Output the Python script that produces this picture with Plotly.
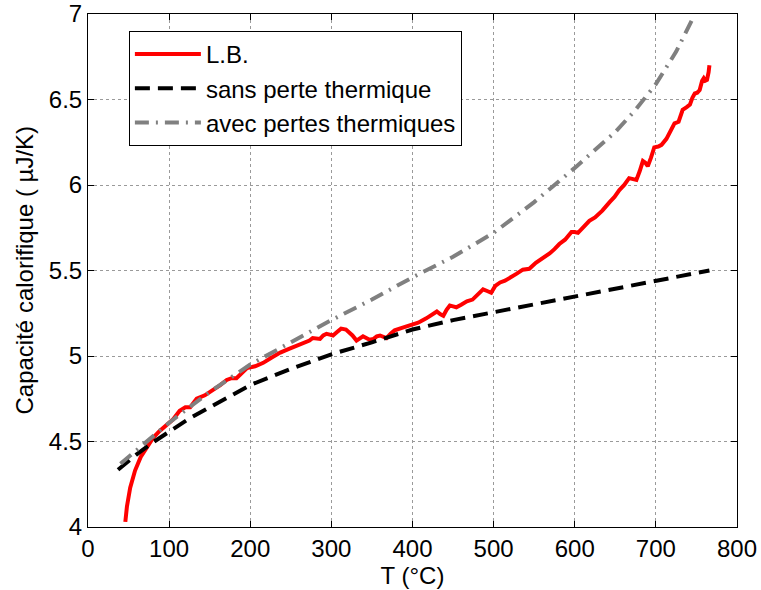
import plotly.graph_objects as go

# L.B. measured curve
lb_T = [46, 48, 52, 58, 65, 72, 80, 88, 97, 105, 113, 120, 126, 134, 144, 154, 163, 171, 177, 183,
        190, 196, 206, 216, 226, 237, 247, 257, 266, 273, 277, 282, 286, 290, 294, 298, 302, 307, 312, 318,
        322, 326, 331, 335, 339, 343, 347, 352, 356, 360, 364, 368, 373, 378, 387, 397, 407, 417, 424, 430,
        434, 438, 442, 446, 450, 454, 460, 467, 474, 480, 487, 492, 497, 502, 508, 514, 520, 528, 536, 544,
        552, 560, 569, 575, 581, 588, 596, 600, 604, 611, 618, 625, 634, 643, 649, 655, 661, 667, 672, 676,
        680, 684, 687, 690, 694, 698, 703, 707, 713, 718, 723, 728, 733, 738, 742, 745, 748, 751, 754, 757,
        759, 761, 763, 765, 766]
lb_C = [4.03, 4.12, 4.23, 4.33, 4.41, 4.46, 4.52, 4.56, 4.60, 4.63, 4.68, 4.70, 4.70, 4.75, 4.77, 4.80, 4.83, 4.86, 4.87, 4.87,
        4.90, 4.93, 4.94, 4.96, 4.99, 5.02, 5.04, 5.06, 5.075, 5.09, 5.105, 5.10, 5.10, 5.12, 5.13, 5.125, 5.12, 5.14, 5.16, 5.155,
        5.14, 5.12, 5.09, 5.10, 5.115, 5.105, 5.095, 5.10, 5.115, 5.12, 5.115, 5.105, 5.13, 5.15, 5.165, 5.18, 5.195, 5.22, 5.245, 5.26,
        5.245, 5.235, 5.27, 5.295, 5.29, 5.285, 5.30, 5.32, 5.33, 5.355, 5.39, 5.38, 5.37, 5.41, 5.43, 5.44, 5.46, 5.48, 5.505, 5.51,
        5.545, 5.57, 5.60, 5.625, 5.655, 5.68, 5.725, 5.725, 5.72, 5.755, 5.79, 5.81, 5.85, 5.90, 5.93, 5.97, 6.00, 6.04, 6.035, 6.03,
        6.08, 6.14, 6.13, 6.11, 6.16, 6.22, 6.225, 6.235, 6.27, 6.31, 6.36, 6.37, 6.44, 6.455, 6.47, 6.51, 6.535, 6.54, 6.555, 6.61,
        6.625, 6.61, 6.615, 6.66, 6.70]

# sans perte thermique
sp_T = [37, 60, 80, 100, 125, 150, 200, 250, 300, 350, 400, 450, 500, 550, 600, 650, 700, 766]
sp_C = [4.335, 4.425, 4.495, 4.56, 4.635, 4.70, 4.83, 4.925, 5.01, 5.08, 5.155, 5.21, 5.255, 5.30, 5.345, 5.39, 5.44, 5.50]

# avec pertes thermiques
ap_T = [40, 60, 80, 100, 150, 200, 250, 300, 350, 400, 450, 500, 550, 600, 650, 675, 700, 725, 745]
ap_C = [4.37, 4.45, 4.53, 4.61, 4.79, 4.95, 5.08, 5.21, 5.33, 5.46, 5.58, 5.72, 5.90, 6.10, 6.31, 6.44, 6.59, 6.78, 6.97]

x_ticks = [0, 100, 200, 300, 400, 500, 600, 700, 800]
y_ticks = [4, 4.5, 5, 5.5, 6, 6.5, 7]
y_tick_text = ["4", "4.5", "5", "5.5", "6", "6.5", "7"]

FONT = "Liberation Sans, Arial, Helvetica, sans-serif"

fig = go.Figure()
fig.add_trace(go.Scatter(x=lb_T, y=lb_C, mode="lines", name="L.B.",
                         line=dict(color="#ff0000", width=4)))
fig.add_trace(go.Scatter(x=sp_T, y=sp_C, mode="lines", name="sans perte thermique",
                         line=dict(color="#000000", width=4, dash="15px,8px")))
fig.add_trace(go.Scatter(x=ap_T, y=ap_C, mode="lines", name="avec pertes thermiques",
                         line=dict(color="#808080", width=4, dash="14px,7px,2px,7px")))

axis_common = dict(
    showline=True, linecolor="black", linewidth=1, mirror="ticks",
    ticks="inside", ticklen=6, tickcolor="black", tickwidth=1,
    showgrid=True, gridcolor="#9a9a9a", griddash="dot", gridwidth=1,
    zeroline=False, automargin=False,
    tickfont=dict(family=FONT, size=24, color="black"),
)

fig.update_layout(
    width=761, height=590,
    margin=dict(l=88, r=24, t=14, b=63, autoexpand=False),
    paper_bgcolor="white", plot_bgcolor="white",
    font=dict(family=FONT, color="black"),
    showlegend=True,
    legend=dict(x=0.063, y=0.967, xanchor="left", yanchor="top",
                bgcolor="white", bordercolor="black", borderwidth=1,
                font=dict(family=FONT, size=24, color="black"),
                tracegroupgap=0, itemwidth=66),
    xaxis=dict(range=[0, 800], tickvals=x_ticks,
               title=dict(text="T (°C)", font=dict(family=FONT, size=24), standoff=5),
               **axis_common),
    yaxis=dict(range=[4, 7], tickvals=y_ticks, ticktext=y_tick_text,
               **axis_common),
    annotations=[dict(text="Capacité calorifique ( µJ/K)", textangle=-90,
                      xref="paper", yref="paper", x=-0.0986, y=0.5,
                      xanchor="center", yanchor="middle", showarrow=False,
                      font=dict(family=FONT, size=24, color="black"))],
)

fig.write_html("out.html")
